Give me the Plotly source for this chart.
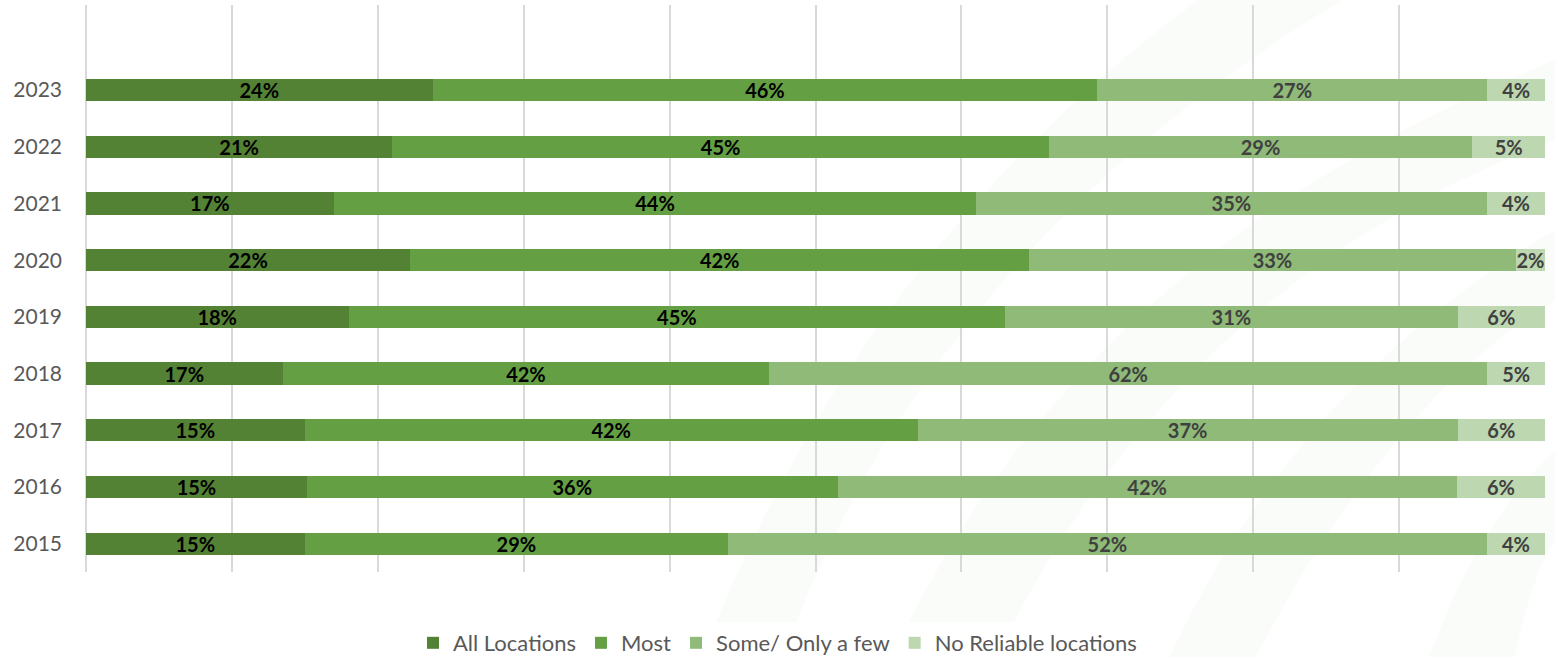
import plotly.graph_objects as go

years = ["2015", "2016", "2017", "2018", "2019", "2020", "2021", "2022", "2023"]
all_locations = [15, 15, 15, 17, 18, 22, 17, 21, 24]
most = [29, 36, 42, 42, 45, 42, 44, 45, 46]
some_few = [52, 42, 37, 62, 31, 33, 35, 29, 27]
no_reliable = [4, 6, 6, 5, 6, 2, 4, 5, 4]

series_names = ["All Locations", "Most", "Some/ Only a few", "No Reliable locations"]
series_values = [all_locations, most, some_few, no_reliable]
series_colors = ["#548235", "#64A043", "#8FBA78", "#BDD7B0"]
label_colors = ["#000000", "#000000", "#404040", "#404040"]

FONT = "Lato, 'Open Sans', sans-serif"
W, H = 1555, 657
ML, MR, MT, MB = 85, 9, 5, 85

fig = go.Figure()
for name, vals, col, tcol in zip(series_names, series_values, series_colors, label_colors):
    fig.add_trace(go.Bar(
        y=years, x=vals, name=name, orientation="h",
        marker=dict(color=col, line=dict(width=0)),
        text=[f"{v}%" for v in vals],
        textposition="inside", insidetextanchor="middle",
        textangle=0, constraintext="none", cliponaxis=False,
        textfont=dict(family=FONT, size=20, color=tcol, weight="bold"),
        hoverinfo="skip",
    ))

# faint decorative watermark bands (pixel -> paper conversion)
pw, ph = W - ML - MR, H - MT - MB
def px(X):
    return (X - ML) / pw
def py(Y):
    return (H - MB - Y) / ph

def band(left, right):
    (a0, a1, a2), (b0, b1, b2) = left, right
    return (f"M {px(a0[0])},{py(a0[1])} Q {px(a1[0])},{py(a1[1])} {px(a2[0])},{py(a2[1])} "
            f"L {px(b2[0])},{py(b2[1])} Q {px(b1[0])},{py(b1[1])} {px(b0[0])},{py(b0[1])} Z")

bands = [
    (((702, 657), (860, 250), (1198, 0)), ((783, 657), (930, 250), (1342, 0))),
    (((892, 657), (1080, 250), (1555, 60)), ((996, 657), (1180, 280), (1555, 140))),
    (((1169, 657), (1300, 380), (1555, 230)), ((1256, 657), (1390, 400), (1555, 300))),
    (((1429, 657), (1480, 520), (1555, 450)), ((1515, 657), (1530, 580), (1555, 540))),
]
for left, right in bands:
    fig.add_shape(type="path", path=band(left, right), xref="paper", yref="paper",
                  fillcolor="rgba(120,170,100,0.04)", line=dict(width=0), layer="below")

fig.update_layout(
    width=W, height=H,
    barmode="stack", barnorm="percent", bargap=0.61,
    margin=dict(l=ML, r=MR, t=MT, b=MB, autoexpand=False),
    plot_bgcolor="rgba(0,0,0,0)", paper_bgcolor="white",
    font=dict(family=FONT, color="#595959"),
    showlegend=True,
    legend=dict(orientation="h", xref="container", yref="container",
                x=0.5, xanchor="center", y=0.0213, yanchor="middle",
                font=dict(family=FONT, size=22, color="#595959"),
                traceorder="normal", itemwidth=30),
    xaxis=dict(range=[-0.06, 100.06], dtick=10, tick0=0, showticklabels=False,
               showgrid=True, gridcolor="#D9D9D9", gridwidth=1.5,
               zeroline=True, zerolinecolor="#D9D9D9", zerolinewidth=1.5,
               showline=False, fixedrange=True, automargin=False),
    yaxis=dict(type="category", range=[-0.5, 9.5], showgrid=False,
               zeroline=False, showline=False, ticks="", automargin=False,
               ticklabelstandoff=22,
               tickfont=dict(family=FONT, size=21, color="#595959")),
)

fig.write_html("out.html", config={"displayModeBar": False},
               post_script="document.body.style.margin='0';document.body.style.overflow='hidden';")
